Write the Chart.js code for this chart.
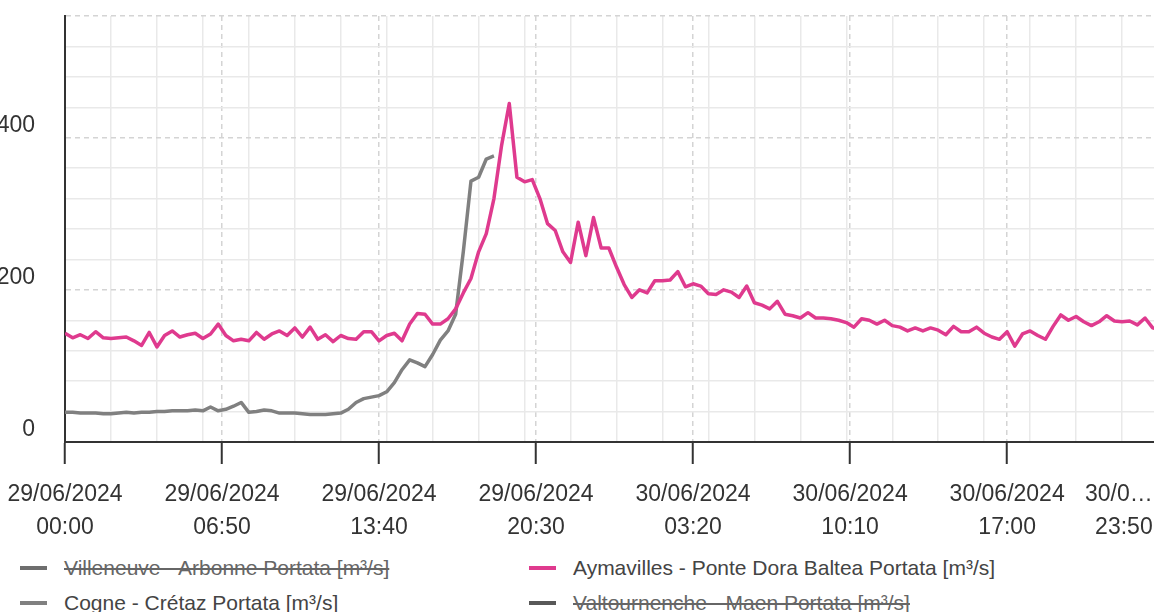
<!DOCTYPE html>
<html>
<head>
<meta charset="utf-8">
<title>Portate 29-30/06/2024</title>
<script src="https://cdn.jsdelivr.net/npm/chart.js@4.4.1/dist/chart.umd.min.js"></script>
<style>
  html, body { margin: 0; padding: 0; background: #fff; overflow: hidden; width: 1154px; height: 612px; }
  #wrap { position: absolute; left: 0; top: 0; width: 1168px; height: 548px; }
  #legend { position: absolute; left: 0; top: 0; font-family: "Liberation Sans", Arial, sans-serif; font-size: 21px; color: #444; }
  .item { position: absolute; display: flex; align-items: center; height: 28px; white-space: nowrap; cursor: pointer; }
  .item .mark { display: inline-block; width: 27px; height: 4px; margin-right: 17px; }
  .item.off .txt { text-decoration: line-through; color: #666; }
</style>
</head>
<body>
<div id="wrap"><canvas id="flowChart"></canvas></div>
<div id="legend"></div>
<script>
// === DATA ===
// readings every 20 minutes starting 29/06/2024 00:00
const STEP_MIN = 20;
const X_MAX = 2880;
const xTickValues = [0, 410, 820, 1230, 1640, 2050, 2460, 2870];
const xTickLabels = [
    ["29/06/2024", "00:00"], ["29/06/2024", "06:50"], ["29/06/2024", "13:40"], ["29/06/2024", "20:30"],
    ["30/06/2024", "03:20"], ["30/06/2024", "10:10"], ["30/06/2024", "17:00"], ["30/0…\u2002", "23:50\u2002"]
];
const MINOR_X_STEP = 120;
const Y_MAX = 560;
const Y_STEP = 40;
const yLabelValues = [0, 200, 400];

const seriesNames = [
    "Villeneuve - Arbonne Portata [m³/s]",
    "Aymavilles - Ponte Dora Baltea Portata [m³/s]",
    "Cogne - Crétaz Portata [m³/s]",
    "Valtournenche - Maen Portata [m³/s]"
];
const seriesColors = ["#6e6e6e", "#df3a8e", "#808080", "#585858"];
const seriesHidden = [true, false, false, true];

const villeneuveFlow = [];
const aymavillesFlow = [
    143, 137, 141, 136, 145, 137, 136, 137, 138, 133, 127, 144, 125, 140, 146, 138, 141, 143, 136, 142,
    155, 140, 133, 135, 133, 144, 135, 142, 146, 140, 150, 138, 151, 135, 141, 132, 140, 136, 135, 145,
    145, 133, 140, 143, 133, 155, 169, 168, 155, 155, 162, 175, 196, 215, 250, 274, 320, 390, 445, 348,
    342, 345, 320, 287, 278, 250, 236, 289, 245, 295, 255, 255, 230, 207, 190, 200, 196, 212, 212, 213,
    224, 204, 208, 205, 195, 194, 200, 197, 190, 205, 183, 180, 175, 185, 168, 166, 163, 170, 163, 163,
    162, 160, 157, 151, 162, 160, 155, 160, 153, 151, 146, 150, 146, 150, 147, 141, 152, 145, 145, 151,
    143, 138, 135, 145, 126, 142, 146, 140, 135, 152, 167, 160, 165, 158, 153, 158, 166, 159, 158, 159,
    154, 163, 150, 147, 145
];
const cogneFlow = [
    39, 39, 38, 38, 38, 37, 37, 38, 39, 38, 39, 39, 40, 40, 41, 41, 41, 42, 41, 46,
    41, 43, 47, 52, 39, 40, 42, 41, 38, 38, 38, 37, 36, 36, 36, 37, 38, 43, 52, 57,
    59, 61, 66, 78, 95, 108, 104, 99, 115, 134, 146, 168, 250, 343, 348, 372, 376
];
const valtournencheFlow = [];
const allFlows = [villeneuveFlow, aymavillesFlow, cogneFlow, valtournencheFlow];

const FONT = "'Liberation Sans', Arial, sans-serif";
const AXIS_COLOR = "#333";
const MINOR_GRID = "#e9e9e9";
const MAJOR_GRID = "#d4d4d4";

function toPoints(values) {
    return values.map((v, i) => ({ x: i * STEP_MIN, y: v }));
}

// === CHART ===
let chart;

function createFlowChart() {
    const ctx = document.getElementById("flowChart").getContext("2d");
    Chart.defaults.font.family = FONT;
    Chart.defaults.color = AXIS_COLOR;

    chart = new Chart(ctx, {
        type: "line",
        data: {
            datasets: seriesNames.map((name, i) => ({
                label: name,
                data: toPoints(allFlows[i]),
                borderColor: seriesColors[i],
                backgroundColor: seriesColors[i],
                borderWidth: 3.5,
                borderJoinStyle: "round",
                pointRadius: 0,
                tension: 0,
                hidden: seriesHidden[i]
            }))
        },
        options: {
            responsive: true,
            maintainAspectRatio: false,
            animation: false,
            layout: { padding: { top: 16, left: 0, right: 0, bottom: 0 } },
            plugins: { legend: { display: false } },
            scales: {
                // light 2-hour grid, no labels
                xMinor: {
                    type: "linear",
                    position: "bottom",
                    min: 0,
                    max: X_MAX,
                    afterBuildTicks: scale => {
                        const t = [];
                        for (let v = 0; v <= X_MAX; v += MINOR_X_STEP) t.push({ value: v });
                        scale.ticks = t;
                    },
                    afterFit: scale => { scale.height = 0; scale.paddingLeft = 0; scale.paddingRight = 0; },
                    ticks: { display: false },
                    grid: { color: MINOR_GRID, lineWidth: 1.5, drawTicks: false },
                    border: { display: false }
                },
                x: {
                    type: "linear",
                    position: "bottom",
                    min: 0,
                    max: X_MAX,
                    // a blank lead tick so only the last label is end-aligned
                    afterBuildTicks: scale => {
                        scale.ticks = [{ value: -410 }].concat(xTickValues.map(v => ({ value: v })));
                    },
                    afterFit: scale => { scale.height = 106; scale.paddingLeft = 0; scale.paddingRight = 0; },
                    ticks: {
                        autoSkip: false,
                        maxRotation: 0,
                        minRotation: 0,
                        align: "inner",
                        padding: 14,
                        color: AXIS_COLOR,
                        font: { size: 23, lineHeight: 1.43 },
                        callback: value => {
                            const j = xTickValues.indexOf(value);
                            return j >= 0 ? xTickLabels[j] : "";
                        }
                    },
                    grid: {
                        color: c => (c.tick && c.tick.value > 0 ? MAJOR_GRID : "transparent"),
                        lineWidth: 1.5,
                        drawTicks: true,
                        tickLength: 22,
                        tickColor: AXIS_COLOR,
                        tickWidth: 2
                    },
                    border: {
                        display: true,
                        color: AXIS_COLOR,
                        width: 2,
                        dash: c => (c.tick ? [5, 4] : [])
                    }
                },
                y: {
                    min: 0,
                    max: Y_MAX,
                    afterBuildTicks: scale => {
                        const t = [];
                        for (let v = 0; v <= Y_MAX; v += Y_STEP) t.push({ value: v });
                        scale.ticks = t;
                    },
                    afterFit: scale => { scale.width = 65; scale.paddingTop = 0; scale.paddingBottom = 0; },
                    ticks: {
                        autoSkip: false,
                        padding: 30,
                        labelOffset: -12,
                        color: AXIS_COLOR,
                        font: { size: 23 },
                        callback: value => (yLabelValues.includes(value) ? String(value) : "")
                    },
                    grid: {
                        color: c => {
                            if (!c.tick || c.tick.value === 0) return "transparent";
                            return (c.tick.value % 200 === 0 || c.tick.value === Y_MAX) ? MAJOR_GRID : MINOR_GRID;
                        },
                        lineWidth: 1.5,
                        drawTicks: false
                    },
                    border: {
                        display: true,
                        color: AXIS_COLOR,
                        width: 2,
                        dash: c => (c.tick && (c.tick.value % 200 === 0 || c.tick.value === Y_MAX) ? [5, 4] : [])
                    }
                }
            }
        }
    });
}

// === LEGEND (two columns, hidden series struck through) ===
const legendSpots = [[20, 554], [529, 554], [20, 589], [529, 589]];

function buildLegend() {
    const box = document.getElementById("legend");
    box.innerHTML = "";
    chart.data.datasets.forEach((ds, i) => {
        const item = document.createElement("div");
        item.className = "item" + (chart.isDatasetVisible(i) ? "" : " off");
        item.style.left = legendSpots[i][0] + "px";
        item.style.top = legendSpots[i][1] + "px";

        const mark = document.createElement("span");
        mark.className = "mark";
        mark.style.background = ds.borderColor;

        const txt = document.createElement("span");
        txt.className = "txt";
        txt.textContent = ds.label;

        item.appendChild(mark);
        item.appendChild(txt);
        item.addEventListener("click", () => {
            chart.setDatasetVisibility(i, !chart.isDatasetVisible(i));
            chart.update();
            buildLegend();
        });
        box.appendChild(item);
    });
}

createFlowChart();
buildLegend();
</script>
</body>
</html>
